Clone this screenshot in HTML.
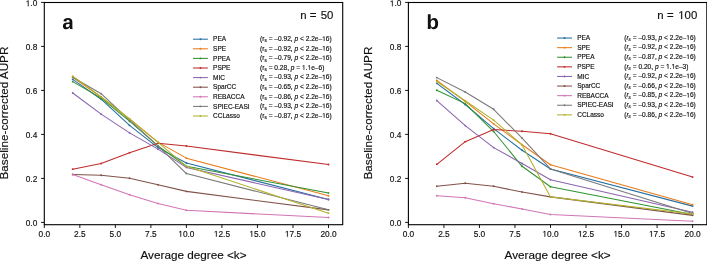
<!DOCTYPE html>
<html><head><meta charset="utf-8"><style>
html,body{margin:0;padding:0;background:#fff;}
body{width:707px;height:262px;overflow:hidden;}
svg{display:block;will-change:transform;}
text{font-family:"Liberation Sans",sans-serif;fill:#111;stroke:#111;stroke-width:0.16px;}
.one{fill:#111;stroke:#111;stroke-width:0.16px;}
</style></head><body>
<svg width="707" height="262" viewBox="0 0 707 262">
<rect width="707" height="262" fill="#fff"/>
<polyline points="72.72,79.40 101.14,99.20 129.56,125.38 157.98,147.60 186.40,163.00 328.50,199.52" fill="none" stroke="#246fa3" stroke-width="1.05" stroke-linejoin="round"/>
<circle cx="72.72" cy="79.40" r="0.95" fill="#246fa3"/>
<circle cx="101.14" cy="99.20" r="0.95" fill="#246fa3"/>
<circle cx="129.56" cy="125.38" r="0.95" fill="#246fa3"/>
<circle cx="157.98" cy="147.60" r="0.95" fill="#246fa3"/>
<circle cx="186.40" cy="163.00" r="0.95" fill="#246fa3"/>
<circle cx="328.50" cy="199.52" r="0.95" fill="#246fa3"/>
<polyline points="72.72,77.20 101.14,97.00 129.56,119.00 157.98,142.10 186.40,158.16 328.50,195.78" fill="none" stroke="#e97b1a" stroke-width="1.05" stroke-linejoin="round"/>
<circle cx="72.72" cy="77.20" r="0.95" fill="#e97b1a"/>
<circle cx="101.14" cy="97.00" r="0.95" fill="#e97b1a"/>
<circle cx="129.56" cy="119.00" r="0.95" fill="#e97b1a"/>
<circle cx="157.98" cy="142.10" r="0.95" fill="#e97b1a"/>
<circle cx="186.40" cy="158.16" r="0.95" fill="#e97b1a"/>
<circle cx="328.50" cy="195.78" r="0.95" fill="#e97b1a"/>
<polyline points="72.72,81.60 101.14,98.10 129.56,121.20 157.98,145.84 186.40,166.30 328.50,192.92" fill="none" stroke="#309330" stroke-width="1.05" stroke-linejoin="round"/>
<circle cx="72.72" cy="81.60" r="0.95" fill="#309330"/>
<circle cx="101.14" cy="98.10" r="0.95" fill="#309330"/>
<circle cx="129.56" cy="121.20" r="0.95" fill="#309330"/>
<circle cx="157.98" cy="145.84" r="0.95" fill="#309330"/>
<circle cx="186.40" cy="166.30" r="0.95" fill="#309330"/>
<circle cx="328.50" cy="192.92" r="0.95" fill="#309330"/>
<polyline points="72.72,169.16 101.14,163.44 129.56,152.66 157.98,143.20 186.40,146.06 328.50,164.54" fill="none" stroke="#c02a2b" stroke-width="1.05" stroke-linejoin="round"/>
<circle cx="72.72" cy="169.16" r="0.95" fill="#c02a2b"/>
<circle cx="101.14" cy="163.44" r="0.95" fill="#c02a2b"/>
<circle cx="129.56" cy="152.66" r="0.95" fill="#c02a2b"/>
<circle cx="157.98" cy="143.20" r="0.95" fill="#c02a2b"/>
<circle cx="186.40" cy="146.06" r="0.95" fill="#c02a2b"/>
<circle cx="328.50" cy="164.54" r="0.95" fill="#c02a2b"/>
<polyline points="72.72,93.04 101.14,114.16 129.56,132.86 157.98,149.14 186.40,167.40 328.50,199.52" fill="none" stroke="#8b64ae" stroke-width="1.05" stroke-linejoin="round"/>
<circle cx="72.72" cy="93.04" r="0.95" fill="#8b64ae"/>
<circle cx="101.14" cy="114.16" r="0.95" fill="#8b64ae"/>
<circle cx="129.56" cy="132.86" r="0.95" fill="#8b64ae"/>
<circle cx="157.98" cy="149.14" r="0.95" fill="#8b64ae"/>
<circle cx="186.40" cy="167.40" r="0.95" fill="#8b64ae"/>
<circle cx="328.50" cy="199.52" r="0.95" fill="#8b64ae"/>
<polyline points="72.72,174.44 101.14,175.32 129.56,178.18 157.98,184.78 186.40,191.38 328.50,209.86" fill="none" stroke="#81534a" stroke-width="1.05" stroke-linejoin="round"/>
<circle cx="72.72" cy="174.44" r="0.95" fill="#81534a"/>
<circle cx="101.14" cy="175.32" r="0.95" fill="#81534a"/>
<circle cx="129.56" cy="178.18" r="0.95" fill="#81534a"/>
<circle cx="157.98" cy="184.78" r="0.95" fill="#81534a"/>
<circle cx="186.40" cy="191.38" r="0.95" fill="#81534a"/>
<circle cx="328.50" cy="209.86" r="0.95" fill="#81534a"/>
<polyline points="72.72,174.44 101.14,184.78 129.56,194.68 157.98,203.48 186.40,210.30 328.50,217.56" fill="none" stroke="#d175b5" stroke-width="1.05" stroke-linejoin="round"/>
<circle cx="72.72" cy="174.44" r="0.95" fill="#d175b5"/>
<circle cx="101.14" cy="184.78" r="0.95" fill="#d175b5"/>
<circle cx="129.56" cy="194.68" r="0.95" fill="#d175b5"/>
<circle cx="157.98" cy="203.48" r="0.95" fill="#d175b5"/>
<circle cx="186.40" cy="210.30" r="0.95" fill="#d175b5"/>
<circle cx="328.50" cy="217.56" r="0.95" fill="#d175b5"/>
<polyline points="72.72,77.20 101.14,93.70 129.56,120.10 157.98,145.84 186.40,173.56 328.50,209.86" fill="none" stroke="#797979" stroke-width="1.05" stroke-linejoin="round"/>
<circle cx="72.72" cy="77.20" r="0.95" fill="#797979"/>
<circle cx="101.14" cy="93.70" r="0.95" fill="#797979"/>
<circle cx="129.56" cy="120.10" r="0.95" fill="#797979"/>
<circle cx="157.98" cy="145.84" r="0.95" fill="#797979"/>
<circle cx="186.40" cy="173.56" r="0.95" fill="#797979"/>
<circle cx="328.50" cy="209.86" r="0.95" fill="#797979"/>
<polyline points="72.72,76.10 101.14,97.00 129.56,119.00 157.98,142.32 186.40,166.30 328.50,213.16" fill="none" stroke="#b1b22d" stroke-width="1.05" stroke-linejoin="round"/>
<circle cx="72.72" cy="76.10" r="0.95" fill="#b1b22d"/>
<circle cx="101.14" cy="97.00" r="0.95" fill="#b1b22d"/>
<circle cx="129.56" cy="119.00" r="0.95" fill="#b1b22d"/>
<circle cx="157.98" cy="142.32" r="0.95" fill="#b1b22d"/>
<circle cx="186.40" cy="166.30" r="0.95" fill="#b1b22d"/>
<circle cx="328.50" cy="213.16" r="0.95" fill="#b1b22d"/>
<rect x="44.30" y="2.50" width="298.41" height="222.20" fill="none" stroke="#000" stroke-width="1.1"/>
<line x1="41.00" y1="222.40" x2="44.30" y2="222.40" stroke="#000" stroke-width="0.9"/>
<text x="37.30" y="226.25" text-anchor="end" font-size="8.3">0.0</text>
<line x1="41.00" y1="178.40" x2="44.30" y2="178.40" stroke="#000" stroke-width="0.9"/>
<text x="37.30" y="182.25" text-anchor="end" font-size="8.3">0.2</text>
<line x1="41.00" y1="134.40" x2="44.30" y2="134.40" stroke="#000" stroke-width="0.9"/>
<text x="37.30" y="138.25" text-anchor="end" font-size="8.3">0.4</text>
<line x1="41.00" y1="90.40" x2="44.30" y2="90.40" stroke="#000" stroke-width="0.9"/>
<text x="37.30" y="94.25" text-anchor="end" font-size="8.3">0.6</text>
<line x1="41.00" y1="46.40" x2="44.30" y2="46.40" stroke="#000" stroke-width="0.9"/>
<text x="37.30" y="50.25" text-anchor="end" font-size="8.3">0.8</text>
<line x1="41.00" y1="2.40" x2="44.30" y2="2.40" stroke="#000" stroke-width="0.9"/>
<text x="37.30" y="6.25" text-anchor="end" font-size="8.3"> .0</text>
<line x1="44.30" y1="224.70" x2="44.30" y2="228.00" stroke="#000" stroke-width="0.9"/>
<text x="44.30" y="236.70" text-anchor="middle" font-size="8.3">0.0</text>
<line x1="79.83" y1="224.70" x2="79.83" y2="228.00" stroke="#000" stroke-width="0.9"/>
<text x="79.83" y="236.70" text-anchor="middle" font-size="8.3">2.5</text>
<line x1="115.35" y1="224.70" x2="115.35" y2="228.00" stroke="#000" stroke-width="0.9"/>
<text x="115.35" y="236.70" text-anchor="middle" font-size="8.3">5.0</text>
<line x1="150.88" y1="224.70" x2="150.88" y2="228.00" stroke="#000" stroke-width="0.9"/>
<text x="150.88" y="236.70" text-anchor="middle" font-size="8.3">7.5</text>
<line x1="186.40" y1="224.70" x2="186.40" y2="228.00" stroke="#000" stroke-width="0.9"/>
<text x="186.40" y="236.70" text-anchor="middle" font-size="8.3"> 0.0</text>
<line x1="221.93" y1="224.70" x2="221.93" y2="228.00" stroke="#000" stroke-width="0.9"/>
<text x="221.93" y="236.70" text-anchor="middle" font-size="8.3"> 2.5</text>
<line x1="257.45" y1="224.70" x2="257.45" y2="228.00" stroke="#000" stroke-width="0.9"/>
<text x="257.45" y="236.70" text-anchor="middle" font-size="8.3"> 5.0</text>
<line x1="292.98" y1="224.70" x2="292.98" y2="228.00" stroke="#000" stroke-width="0.9"/>
<text x="292.98" y="236.70" text-anchor="middle" font-size="8.3"> 7.5</text>
<line x1="328.50" y1="224.70" x2="328.50" y2="228.00" stroke="#000" stroke-width="0.9"/>
<text x="328.50" y="236.70" text-anchor="middle" font-size="8.3">20.0</text>
<text x="193.51" y="258.7" text-anchor="middle" font-size="11.72">Average degree &lt;k&gt;</text>
<text x="8.30" y="113.05" text-anchor="middle" font-size="11.72" transform="rotate(-90 8.30 113.05)">Baseline-corrected AUPR</text>
<path d="M393 -20Q236 -20 148.0 65.5Q60 151 60 306Q60 474 169.5 562.0Q279 650 487 652L720 656V711Q720 817 683.0 868.5Q646 920 562 920Q484 920 447.5 884.5Q411 849 402 767L109 781Q136 939 253.5 1020.5Q371 1102 574 1102Q779 1102 890.0 1001.0Q1001 900 1001 714V130Q1001 40 1050 0H765Q757 90 755 193H749Q631 -20 393 -20ZM720 501 576 499Q478 495 437.0 477.5Q396 460 374.5 424.0Q353 388 353 328Q353 251 388.5 213.5Q424 176 483 176Q549 176 603.5 212.0Q658 248 689.0 311.5Q720 375 720 446Z" transform="translate(62.30 29.1) scale(0.01006 -0.01006)" fill="#111"/>
<text x="300.30" y="19.0" font-size="11.4">n</text>
<text x="309.75" y="19.0" font-size="11.4">=</text>
<text x="333.30" y="19.0" text-anchor="end" font-size="11.4">50</text>
<line x1="193.00" y1="39.20" x2="207.90" y2="39.20" stroke="#246fa3" stroke-width="1.05"/>
<circle cx="200.45" cy="39.20" r="0.95" fill="#246fa3"/>
<text x="213.10" y="41.30" font-size="6.5">PEA</text>
<text x="260.10" y="41.00" font-size="6.6">(<tspan font-style="normal">r</tspan><tspan font-size="4.6" dy="1.3" font-style="normal">s</tspan><tspan dy="-1.3"> = –0.92, </tspan><tspan font-style="italic">p</tspan> &lt; 2.2e– 6)</text>
<line x1="193.00" y1="48.80" x2="207.90" y2="48.80" stroke="#e97b1a" stroke-width="1.05"/>
<circle cx="200.45" cy="48.80" r="0.95" fill="#e97b1a"/>
<text x="213.10" y="50.90" font-size="6.5">SPE</text>
<text x="260.10" y="50.60" font-size="6.6">(<tspan font-style="normal">r</tspan><tspan font-size="4.6" dy="1.3" font-style="normal">s</tspan><tspan dy="-1.3"> = –0.92, </tspan><tspan font-style="italic">p</tspan> &lt; 2.2e– 6)</text>
<line x1="193.00" y1="58.40" x2="207.90" y2="58.40" stroke="#309330" stroke-width="1.05"/>
<circle cx="200.45" cy="58.40" r="0.95" fill="#309330"/>
<text x="213.10" y="60.50" font-size="6.5">PPEA</text>
<text x="260.10" y="60.20" font-size="6.6">(<tspan font-style="normal">r</tspan><tspan font-size="4.6" dy="1.3" font-style="normal">s</tspan><tspan dy="-1.3"> = –0.79, </tspan><tspan font-style="italic">p</tspan> &lt; 2.2e– 6)</text>
<line x1="193.00" y1="68.00" x2="207.90" y2="68.00" stroke="#c02a2b" stroke-width="1.05"/>
<circle cx="200.45" cy="68.00" r="0.95" fill="#c02a2b"/>
<text x="213.10" y="70.10" font-size="6.5">PSPE</text>
<text x="260.10" y="69.80" font-size="6.6">(<tspan font-style="normal">r</tspan><tspan font-size="4.6" dy="1.3" font-style="normal">s</tspan><tspan dy="-1.3"> = 0.28, </tspan><tspan font-style="italic">p</tspan> =  . e–6)</text>
<line x1="193.00" y1="77.60" x2="207.90" y2="77.60" stroke="#8b64ae" stroke-width="1.05"/>
<circle cx="200.45" cy="77.60" r="0.95" fill="#8b64ae"/>
<text x="213.10" y="79.70" font-size="6.5">MIC</text>
<text x="260.10" y="79.40" font-size="6.6">(<tspan font-style="normal">r</tspan><tspan font-size="4.6" dy="1.3" font-style="normal">s</tspan><tspan dy="-1.3"> = –0.93, </tspan><tspan font-style="italic">p</tspan> &lt; 2.2e– 6)</text>
<line x1="193.00" y1="87.20" x2="207.90" y2="87.20" stroke="#81534a" stroke-width="1.05"/>
<circle cx="200.45" cy="87.20" r="0.95" fill="#81534a"/>
<text x="213.10" y="89.30" font-size="6.5">SparCC</text>
<text x="260.10" y="89.00" font-size="6.6">(<tspan font-style="normal">r</tspan><tspan font-size="4.6" dy="1.3" font-style="normal">s</tspan><tspan dy="-1.3"> = –0.65, </tspan><tspan font-style="italic">p</tspan> &lt; 2.2e– 6)</text>
<line x1="193.00" y1="96.80" x2="207.90" y2="96.80" stroke="#d175b5" stroke-width="1.05"/>
<circle cx="200.45" cy="96.80" r="0.95" fill="#d175b5"/>
<text x="213.10" y="98.90" font-size="6.5">REBACCA</text>
<text x="260.10" y="98.60" font-size="6.6">(<tspan font-style="normal">r</tspan><tspan font-size="4.6" dy="1.3" font-style="normal">s</tspan><tspan dy="-1.3"> = –0.86, </tspan><tspan font-style="italic">p</tspan> &lt; 2.2e– 6)</text>
<line x1="193.00" y1="106.40" x2="207.90" y2="106.40" stroke="#797979" stroke-width="1.05"/>
<circle cx="200.45" cy="106.40" r="0.95" fill="#797979"/>
<text x="213.10" y="108.50" font-size="6.5">SPIEC-EASI</text>
<text x="260.10" y="108.20" font-size="6.6">(<tspan font-style="normal">r</tspan><tspan font-size="4.6" dy="1.3" font-style="normal">s</tspan><tspan dy="-1.3"> = –0.93, </tspan><tspan font-style="italic">p</tspan> &lt; 2.2e– 6)</text>
<line x1="193.00" y1="116.00" x2="207.90" y2="116.00" stroke="#b1b22d" stroke-width="1.05"/>
<circle cx="200.45" cy="116.00" r="0.95" fill="#b1b22d"/>
<text x="213.10" y="118.10" font-size="6.5">CCLasso</text>
<text x="260.10" y="117.80" font-size="6.6">(<tspan font-style="normal">r</tspan><tspan font-size="4.6" dy="1.3" font-style="normal">s</tspan><tspan dy="-1.3"> = –0.87, </tspan><tspan font-style="italic">p</tspan> &lt; 2.2e– 6)</text>
<polyline points="436.82,83.36 465.24,104.48 493.66,128.68 522.08,150.24 550.50,168.94 692.60,206.12" fill="none" stroke="#246fa3" stroke-width="1.05" stroke-linejoin="round"/>
<circle cx="436.82" cy="83.36" r="0.95" fill="#246fa3"/>
<circle cx="465.24" cy="104.48" r="0.95" fill="#246fa3"/>
<circle cx="493.66" cy="128.68" r="0.95" fill="#246fa3"/>
<circle cx="522.08" cy="150.24" r="0.95" fill="#246fa3"/>
<circle cx="550.50" cy="168.94" r="0.95" fill="#246fa3"/>
<circle cx="692.60" cy="206.12" r="0.95" fill="#246fa3"/>
<polyline points="436.82,80.50 465.24,101.40 493.66,123.84 522.08,144.74 550.50,164.76 692.60,204.80" fill="none" stroke="#e97b1a" stroke-width="1.05" stroke-linejoin="round"/>
<circle cx="436.82" cy="80.50" r="0.95" fill="#e97b1a"/>
<circle cx="465.24" cy="101.40" r="0.95" fill="#e97b1a"/>
<circle cx="493.66" cy="123.84" r="0.95" fill="#e97b1a"/>
<circle cx="522.08" cy="144.74" r="0.95" fill="#e97b1a"/>
<circle cx="550.50" cy="164.76" r="0.95" fill="#e97b1a"/>
<circle cx="692.60" cy="204.80" r="0.95" fill="#e97b1a"/>
<polyline points="436.82,90.18 465.24,103.60 493.66,131.54 522.08,166.30 550.50,186.76 692.60,214.48" fill="none" stroke="#309330" stroke-width="1.05" stroke-linejoin="round"/>
<circle cx="436.82" cy="90.18" r="0.95" fill="#309330"/>
<circle cx="465.24" cy="103.60" r="0.95" fill="#309330"/>
<circle cx="493.66" cy="131.54" r="0.95" fill="#309330"/>
<circle cx="522.08" cy="166.30" r="0.95" fill="#309330"/>
<circle cx="550.50" cy="186.76" r="0.95" fill="#309330"/>
<circle cx="692.60" cy="214.48" r="0.95" fill="#309330"/>
<polyline points="436.82,164.32 465.24,141.66 493.66,129.56 522.08,131.32 550.50,133.74 692.60,177.08" fill="none" stroke="#c02a2b" stroke-width="1.05" stroke-linejoin="round"/>
<circle cx="436.82" cy="164.32" r="0.95" fill="#c02a2b"/>
<circle cx="465.24" cy="141.66" r="0.95" fill="#c02a2b"/>
<circle cx="493.66" cy="129.56" r="0.95" fill="#c02a2b"/>
<circle cx="522.08" cy="131.32" r="0.95" fill="#c02a2b"/>
<circle cx="550.50" cy="133.74" r="0.95" fill="#c02a2b"/>
<circle cx="692.60" cy="177.08" r="0.95" fill="#c02a2b"/>
<polyline points="436.82,100.52 465.24,125.60 493.66,147.60 522.08,163.44 550.50,179.72 692.60,212.28" fill="none" stroke="#8b64ae" stroke-width="1.05" stroke-linejoin="round"/>
<circle cx="436.82" cy="100.52" r="0.95" fill="#8b64ae"/>
<circle cx="465.24" cy="125.60" r="0.95" fill="#8b64ae"/>
<circle cx="493.66" cy="147.60" r="0.95" fill="#8b64ae"/>
<circle cx="522.08" cy="163.44" r="0.95" fill="#8b64ae"/>
<circle cx="550.50" cy="179.72" r="0.95" fill="#8b64ae"/>
<circle cx="692.60" cy="212.28" r="0.95" fill="#8b64ae"/>
<polyline points="436.82,186.32 465.24,183.24 493.66,186.32 522.08,192.04 550.50,196.88 692.60,215.36" fill="none" stroke="#81534a" stroke-width="1.05" stroke-linejoin="round"/>
<circle cx="436.82" cy="186.32" r="0.95" fill="#81534a"/>
<circle cx="465.24" cy="183.24" r="0.95" fill="#81534a"/>
<circle cx="493.66" cy="186.32" r="0.95" fill="#81534a"/>
<circle cx="522.08" cy="192.04" r="0.95" fill="#81534a"/>
<circle cx="550.50" cy="196.88" r="0.95" fill="#81534a"/>
<circle cx="692.60" cy="215.36" r="0.95" fill="#81534a"/>
<polyline points="436.82,195.78 465.24,197.76 493.66,203.70 522.08,208.98 550.50,214.48 692.60,221.19" fill="none" stroke="#d175b5" stroke-width="1.05" stroke-linejoin="round"/>
<circle cx="436.82" cy="195.78" r="0.95" fill="#d175b5"/>
<circle cx="465.24" cy="197.76" r="0.95" fill="#d175b5"/>
<circle cx="493.66" cy="203.70" r="0.95" fill="#d175b5"/>
<circle cx="522.08" cy="208.98" r="0.95" fill="#d175b5"/>
<circle cx="550.50" cy="214.48" r="0.95" fill="#d175b5"/>
<circle cx="692.60" cy="221.19" r="0.95" fill="#d175b5"/>
<polyline points="436.82,77.64 465.24,91.94 493.66,109.32 522.08,138.14 550.50,168.94 692.60,213.60" fill="none" stroke="#797979" stroke-width="1.05" stroke-linejoin="round"/>
<circle cx="436.82" cy="77.64" r="0.95" fill="#797979"/>
<circle cx="465.24" cy="91.94" r="0.95" fill="#797979"/>
<circle cx="493.66" cy="109.32" r="0.95" fill="#797979"/>
<circle cx="522.08" cy="138.14" r="0.95" fill="#797979"/>
<circle cx="550.50" cy="168.94" r="0.95" fill="#797979"/>
<circle cx="692.60" cy="213.60" r="0.95" fill="#797979"/>
<polyline points="436.82,81.60 465.24,100.74 493.66,120.10 522.08,144.96 550.50,196.88 692.60,214.04" fill="none" stroke="#b1b22d" stroke-width="1.05" stroke-linejoin="round"/>
<circle cx="436.82" cy="81.60" r="0.95" fill="#b1b22d"/>
<circle cx="465.24" cy="100.74" r="0.95" fill="#b1b22d"/>
<circle cx="493.66" cy="120.10" r="0.95" fill="#b1b22d"/>
<circle cx="522.08" cy="144.96" r="0.95" fill="#b1b22d"/>
<circle cx="550.50" cy="196.88" r="0.95" fill="#b1b22d"/>
<circle cx="692.60" cy="214.04" r="0.95" fill="#b1b22d"/>
<rect x="408.40" y="2.50" width="298.41" height="222.20" fill="none" stroke="#000" stroke-width="1.1"/>
<line x1="405.10" y1="222.40" x2="408.40" y2="222.40" stroke="#000" stroke-width="0.9"/>
<text x="401.40" y="226.25" text-anchor="end" font-size="8.3">0.0</text>
<line x1="405.10" y1="178.40" x2="408.40" y2="178.40" stroke="#000" stroke-width="0.9"/>
<text x="401.40" y="182.25" text-anchor="end" font-size="8.3">0.2</text>
<line x1="405.10" y1="134.40" x2="408.40" y2="134.40" stroke="#000" stroke-width="0.9"/>
<text x="401.40" y="138.25" text-anchor="end" font-size="8.3">0.4</text>
<line x1="405.10" y1="90.40" x2="408.40" y2="90.40" stroke="#000" stroke-width="0.9"/>
<text x="401.40" y="94.25" text-anchor="end" font-size="8.3">0.6</text>
<line x1="405.10" y1="46.40" x2="408.40" y2="46.40" stroke="#000" stroke-width="0.9"/>
<text x="401.40" y="50.25" text-anchor="end" font-size="8.3">0.8</text>
<line x1="405.10" y1="2.40" x2="408.40" y2="2.40" stroke="#000" stroke-width="0.9"/>
<text x="401.40" y="6.25" text-anchor="end" font-size="8.3"> .0</text>
<line x1="408.40" y1="224.70" x2="408.40" y2="228.00" stroke="#000" stroke-width="0.9"/>
<text x="408.40" y="236.70" text-anchor="middle" font-size="8.3">0.0</text>
<line x1="443.93" y1="224.70" x2="443.93" y2="228.00" stroke="#000" stroke-width="0.9"/>
<text x="443.93" y="236.70" text-anchor="middle" font-size="8.3">2.5</text>
<line x1="479.45" y1="224.70" x2="479.45" y2="228.00" stroke="#000" stroke-width="0.9"/>
<text x="479.45" y="236.70" text-anchor="middle" font-size="8.3">5.0</text>
<line x1="514.98" y1="224.70" x2="514.98" y2="228.00" stroke="#000" stroke-width="0.9"/>
<text x="514.98" y="236.70" text-anchor="middle" font-size="8.3">7.5</text>
<line x1="550.50" y1="224.70" x2="550.50" y2="228.00" stroke="#000" stroke-width="0.9"/>
<text x="550.50" y="236.70" text-anchor="middle" font-size="8.3"> 0.0</text>
<line x1="586.03" y1="224.70" x2="586.03" y2="228.00" stroke="#000" stroke-width="0.9"/>
<text x="586.03" y="236.70" text-anchor="middle" font-size="8.3"> 2.5</text>
<line x1="621.55" y1="224.70" x2="621.55" y2="228.00" stroke="#000" stroke-width="0.9"/>
<text x="621.55" y="236.70" text-anchor="middle" font-size="8.3"> 5.0</text>
<line x1="657.08" y1="224.70" x2="657.08" y2="228.00" stroke="#000" stroke-width="0.9"/>
<text x="657.08" y="236.70" text-anchor="middle" font-size="8.3"> 7.5</text>
<line x1="692.60" y1="224.70" x2="692.60" y2="228.00" stroke="#000" stroke-width="0.9"/>
<text x="692.60" y="236.70" text-anchor="middle" font-size="8.3">20.0</text>
<text x="557.61" y="258.7" text-anchor="middle" font-size="11.72">Average degree &lt;k&gt;</text>
<text x="372.40" y="113.05" text-anchor="middle" font-size="11.72" transform="rotate(-90 372.40 113.05)">Baseline-corrected AUPR</text>
<path d="M1167 545Q1167 277 1059.5 128.5Q952 -20 752 -20Q637 -20 553.0 30.0Q469 80 424 174H422Q422 139 417.5 78.0Q413 17 408 0H135Q143 93 143 247V1484H424V1070L420 894H424Q519 1102 770 1102Q962 1102 1064.5 956.5Q1167 811 1167 545ZM874 545Q874 729 820.0 818.0Q766 907 653 907Q539 907 479.5 811.5Q420 716 420 536Q420 364 478.5 268.0Q537 172 651 172Q874 172 874 545Z" transform="translate(426.40 29.1) scale(0.01006 -0.01006)" fill="#111"/>
<text x="657.20" y="19.0" font-size="11.4">n</text>
<text x="667.00" y="19.0" font-size="11.4">=</text>
<text x="697.30" y="19.0" text-anchor="end" font-size="11.4"> 00</text>
<line x1="557.10" y1="38.05" x2="572.00" y2="38.05" stroke="#246fa3" stroke-width="1.05"/>
<circle cx="564.55" cy="38.05" r="0.95" fill="#246fa3"/>
<text x="577.20" y="40.15" font-size="6.5">PEA</text>
<text x="624.20" y="39.85" font-size="6.6">(<tspan font-style="italic">r</tspan><tspan font-size="4.6" dy="1.3" font-style="italic">s</tspan><tspan dy="-1.3"> = –0.93, </tspan><tspan font-style="italic">p</tspan> &lt; 2.2e– 6)</text>
<line x1="557.10" y1="47.65" x2="572.00" y2="47.65" stroke="#e97b1a" stroke-width="1.05"/>
<circle cx="564.55" cy="47.65" r="0.95" fill="#e97b1a"/>
<text x="577.20" y="49.75" font-size="6.5">SPE</text>
<text x="624.20" y="49.45" font-size="6.6">(<tspan font-style="italic">r</tspan><tspan font-size="4.6" dy="1.3" font-style="italic">s</tspan><tspan dy="-1.3"> = –0.92, </tspan><tspan font-style="italic">p</tspan> &lt; 2.2e– 6)</text>
<line x1="557.10" y1="57.25" x2="572.00" y2="57.25" stroke="#309330" stroke-width="1.05"/>
<circle cx="564.55" cy="57.25" r="0.95" fill="#309330"/>
<text x="577.20" y="59.35" font-size="6.5">PPEA</text>
<text x="624.20" y="59.05" font-size="6.6">(<tspan font-style="italic">r</tspan><tspan font-size="4.6" dy="1.3" font-style="italic">s</tspan><tspan dy="-1.3"> = –0.87, </tspan><tspan font-style="italic">p</tspan> &lt; 2.2e– 6)</text>
<line x1="557.10" y1="66.85" x2="572.00" y2="66.85" stroke="#c02a2b" stroke-width="1.05"/>
<circle cx="564.55" cy="66.85" r="0.95" fill="#c02a2b"/>
<text x="577.20" y="68.95" font-size="6.5">PSPE</text>
<text x="624.20" y="68.65" font-size="6.6">(<tspan font-style="italic">r</tspan><tspan font-size="4.6" dy="1.3" font-style="italic">s</tspan><tspan dy="-1.3"> = 0.20, </tspan><tspan font-style="italic">p</tspan> =  . e–3)</text>
<line x1="557.10" y1="76.45" x2="572.00" y2="76.45" stroke="#8b64ae" stroke-width="1.05"/>
<circle cx="564.55" cy="76.45" r="0.95" fill="#8b64ae"/>
<text x="577.20" y="78.55" font-size="6.5">MIC</text>
<text x="624.20" y="78.25" font-size="6.6">(<tspan font-style="italic">r</tspan><tspan font-size="4.6" dy="1.3" font-style="italic">s</tspan><tspan dy="-1.3"> = –0.92, </tspan><tspan font-style="italic">p</tspan> &lt; 2.2e– 6)</text>
<line x1="557.10" y1="86.05" x2="572.00" y2="86.05" stroke="#81534a" stroke-width="1.05"/>
<circle cx="564.55" cy="86.05" r="0.95" fill="#81534a"/>
<text x="577.20" y="88.15" font-size="6.5">SparCC</text>
<text x="624.20" y="87.85" font-size="6.6">(<tspan font-style="italic">r</tspan><tspan font-size="4.6" dy="1.3" font-style="italic">s</tspan><tspan dy="-1.3"> = –0.66, </tspan><tspan font-style="italic">p</tspan> &lt; 2.2e– 6)</text>
<line x1="557.10" y1="95.65" x2="572.00" y2="95.65" stroke="#d175b5" stroke-width="1.05"/>
<circle cx="564.55" cy="95.65" r="0.95" fill="#d175b5"/>
<text x="577.20" y="97.75" font-size="6.5">REBACCA</text>
<text x="624.20" y="97.45" font-size="6.6">(<tspan font-style="italic">r</tspan><tspan font-size="4.6" dy="1.3" font-style="italic">s</tspan><tspan dy="-1.3"> = –0.85, </tspan><tspan font-style="italic">p</tspan> &lt; 2.2e– 6)</text>
<line x1="557.10" y1="105.25" x2="572.00" y2="105.25" stroke="#797979" stroke-width="1.05"/>
<circle cx="564.55" cy="105.25" r="0.95" fill="#797979"/>
<text x="577.20" y="107.35" font-size="6.5">SPIEC-EASI</text>
<text x="624.20" y="107.05" font-size="6.6">(<tspan font-style="italic">r</tspan><tspan font-size="4.6" dy="1.3" font-style="italic">s</tspan><tspan dy="-1.3"> = –0.93, </tspan><tspan font-style="italic">p</tspan> &lt; 2.2e– 6)</text>
<line x1="557.10" y1="114.85" x2="572.00" y2="114.85" stroke="#b1b22d" stroke-width="1.05"/>
<circle cx="564.55" cy="114.85" r="0.95" fill="#b1b22d"/>
<text x="577.20" y="116.95" font-size="6.5">CCLasso</text>
<text x="624.20" y="116.65" font-size="6.6">(<tspan font-style="italic">r</tspan><tspan font-size="4.6" dy="1.3" font-style="italic">s</tspan><tspan dy="-1.3"> = –0.86, </tspan><tspan font-style="italic">p</tspan> &lt; 2.2e– 6)</text>
<polygon points="27.840,6.250 27.840,1.237 26.552,2.157 26.552,1.468 27.901,0.540 28.574,0.540 28.574,6.250" class="one"/>
<polygon points="180.409,236.700 180.409,231.687 179.120,232.607 179.120,231.918 180.470,230.990 181.143,230.990 181.143,236.700" class="one"/>
<polygon points="215.939,236.700 215.939,231.687 214.650,232.607 214.650,231.918 216.000,230.990 216.673,230.990 216.673,236.700" class="one"/>
<polygon points="251.459,236.700 251.459,231.687 250.170,232.607 250.170,231.918 251.520,230.990 252.193,230.990 252.193,236.700" class="one"/>
<polygon points="286.989,236.700 286.989,231.687 285.700,232.607 285.700,231.918 287.050,230.990 287.723,230.990 287.723,236.700" class="one"/>
<polygon points="323.822,41.000 323.822,37.014 322.797,37.745 322.797,37.197 323.871,36.459 324.405,36.459 324.405,41.000" class="one"/>
<polygon points="323.822,50.600 323.822,46.614 322.797,47.345 322.797,46.797 323.871,46.059 324.405,46.059 324.405,50.600" class="one"/>
<polygon points="323.822,60.200 323.822,56.214 322.797,56.945 322.797,56.397 323.871,55.659 324.405,55.659 324.405,60.200" class="one"/>
<polygon points="303.650,69.800 303.650,65.814 302.625,66.545 302.625,65.997 303.699,65.259 304.234,65.259 304.234,69.800" class="one"/>
<polygon points="309.150,69.800 309.150,65.814 308.125,66.545 308.125,65.997 309.199,65.259 309.734,65.259 309.734,69.800" class="one"/>
<polygon points="323.822,79.400 323.822,75.414 322.797,76.145 322.797,75.597 323.871,74.859 324.405,74.859 324.405,79.400" class="one"/>
<polygon points="323.822,89.000 323.822,85.014 322.797,85.745 322.797,85.197 323.871,84.459 324.405,84.459 324.405,89.000" class="one"/>
<polygon points="323.822,98.600 323.822,94.614 322.797,95.345 322.797,94.797 323.871,94.059 324.405,94.059 324.405,98.600" class="one"/>
<polygon points="323.822,108.200 323.822,104.214 322.797,104.945 322.797,104.397 323.871,103.659 324.405,103.659 324.405,108.200" class="one"/>
<polygon points="323.822,117.800 323.822,113.814 322.797,114.545 322.797,113.997 323.871,113.259 324.405,113.259 324.405,117.800" class="one"/>
<polygon points="391.940,6.250 391.940,1.237 390.652,2.157 390.652,1.468 392.001,0.540 392.674,0.540 392.674,6.250" class="one"/>
<polygon points="544.509,236.700 544.509,231.687 543.220,232.607 543.220,231.918 544.570,230.990 545.243,230.990 545.243,236.700" class="one"/>
<polygon points="580.039,236.700 580.039,231.687 578.750,232.607 578.750,231.918 580.100,230.990 580.773,230.990 580.773,236.700" class="one"/>
<polygon points="615.559,236.700 615.559,231.687 614.270,232.607 614.270,231.918 615.620,230.990 616.293,230.990 616.293,236.700" class="one"/>
<polygon points="651.089,236.700 651.089,231.687 649.800,232.607 649.800,231.918 651.150,230.990 651.823,230.990 651.823,236.700" class="one"/>
<polygon points="681.151,19.000 681.151,12.114 679.381,13.378 679.381,12.432 681.235,11.157 682.159,11.157 682.159,19.000" class="one"/>
<polygon points="687.922,39.850 687.922,35.864 686.897,36.595 686.897,36.047 687.971,35.309 688.505,35.309 688.505,39.850" class="one"/>
<polygon points="687.922,49.450 687.922,45.464 686.897,46.195 686.897,45.647 687.971,44.909 688.505,44.909 688.505,49.450" class="one"/>
<polygon points="687.922,59.050 687.922,55.064 686.897,55.795 686.897,55.247 687.971,54.509 688.505,54.509 688.505,59.050" class="one"/>
<polygon points="667.750,68.650 667.750,64.664 666.726,65.395 666.726,64.847 667.799,64.109 668.334,64.109 668.334,68.650" class="one"/>
<polygon points="673.250,68.650 673.250,64.664 672.226,65.395 672.226,64.847 673.299,64.109 673.834,64.109 673.834,68.650" class="one"/>
<polygon points="687.922,78.250 687.922,74.264 686.897,74.995 686.897,74.447 687.971,73.709 688.505,73.709 688.505,78.250" class="one"/>
<polygon points="687.922,87.850 687.922,83.864 686.897,84.595 686.897,84.047 687.971,83.309 688.505,83.309 688.505,87.850" class="one"/>
<polygon points="687.922,97.450 687.922,93.464 686.897,94.195 686.897,93.647 687.971,92.909 688.505,92.909 688.505,97.450" class="one"/>
<polygon points="687.922,107.050 687.922,103.064 686.897,103.795 686.897,103.247 687.971,102.509 688.505,102.509 688.505,107.050" class="one"/>
<polygon points="687.922,116.650 687.922,112.664 686.897,113.395 686.897,112.847 687.971,112.109 688.505,112.109 688.505,116.650" class="one"/>
</svg>
</body></html>
